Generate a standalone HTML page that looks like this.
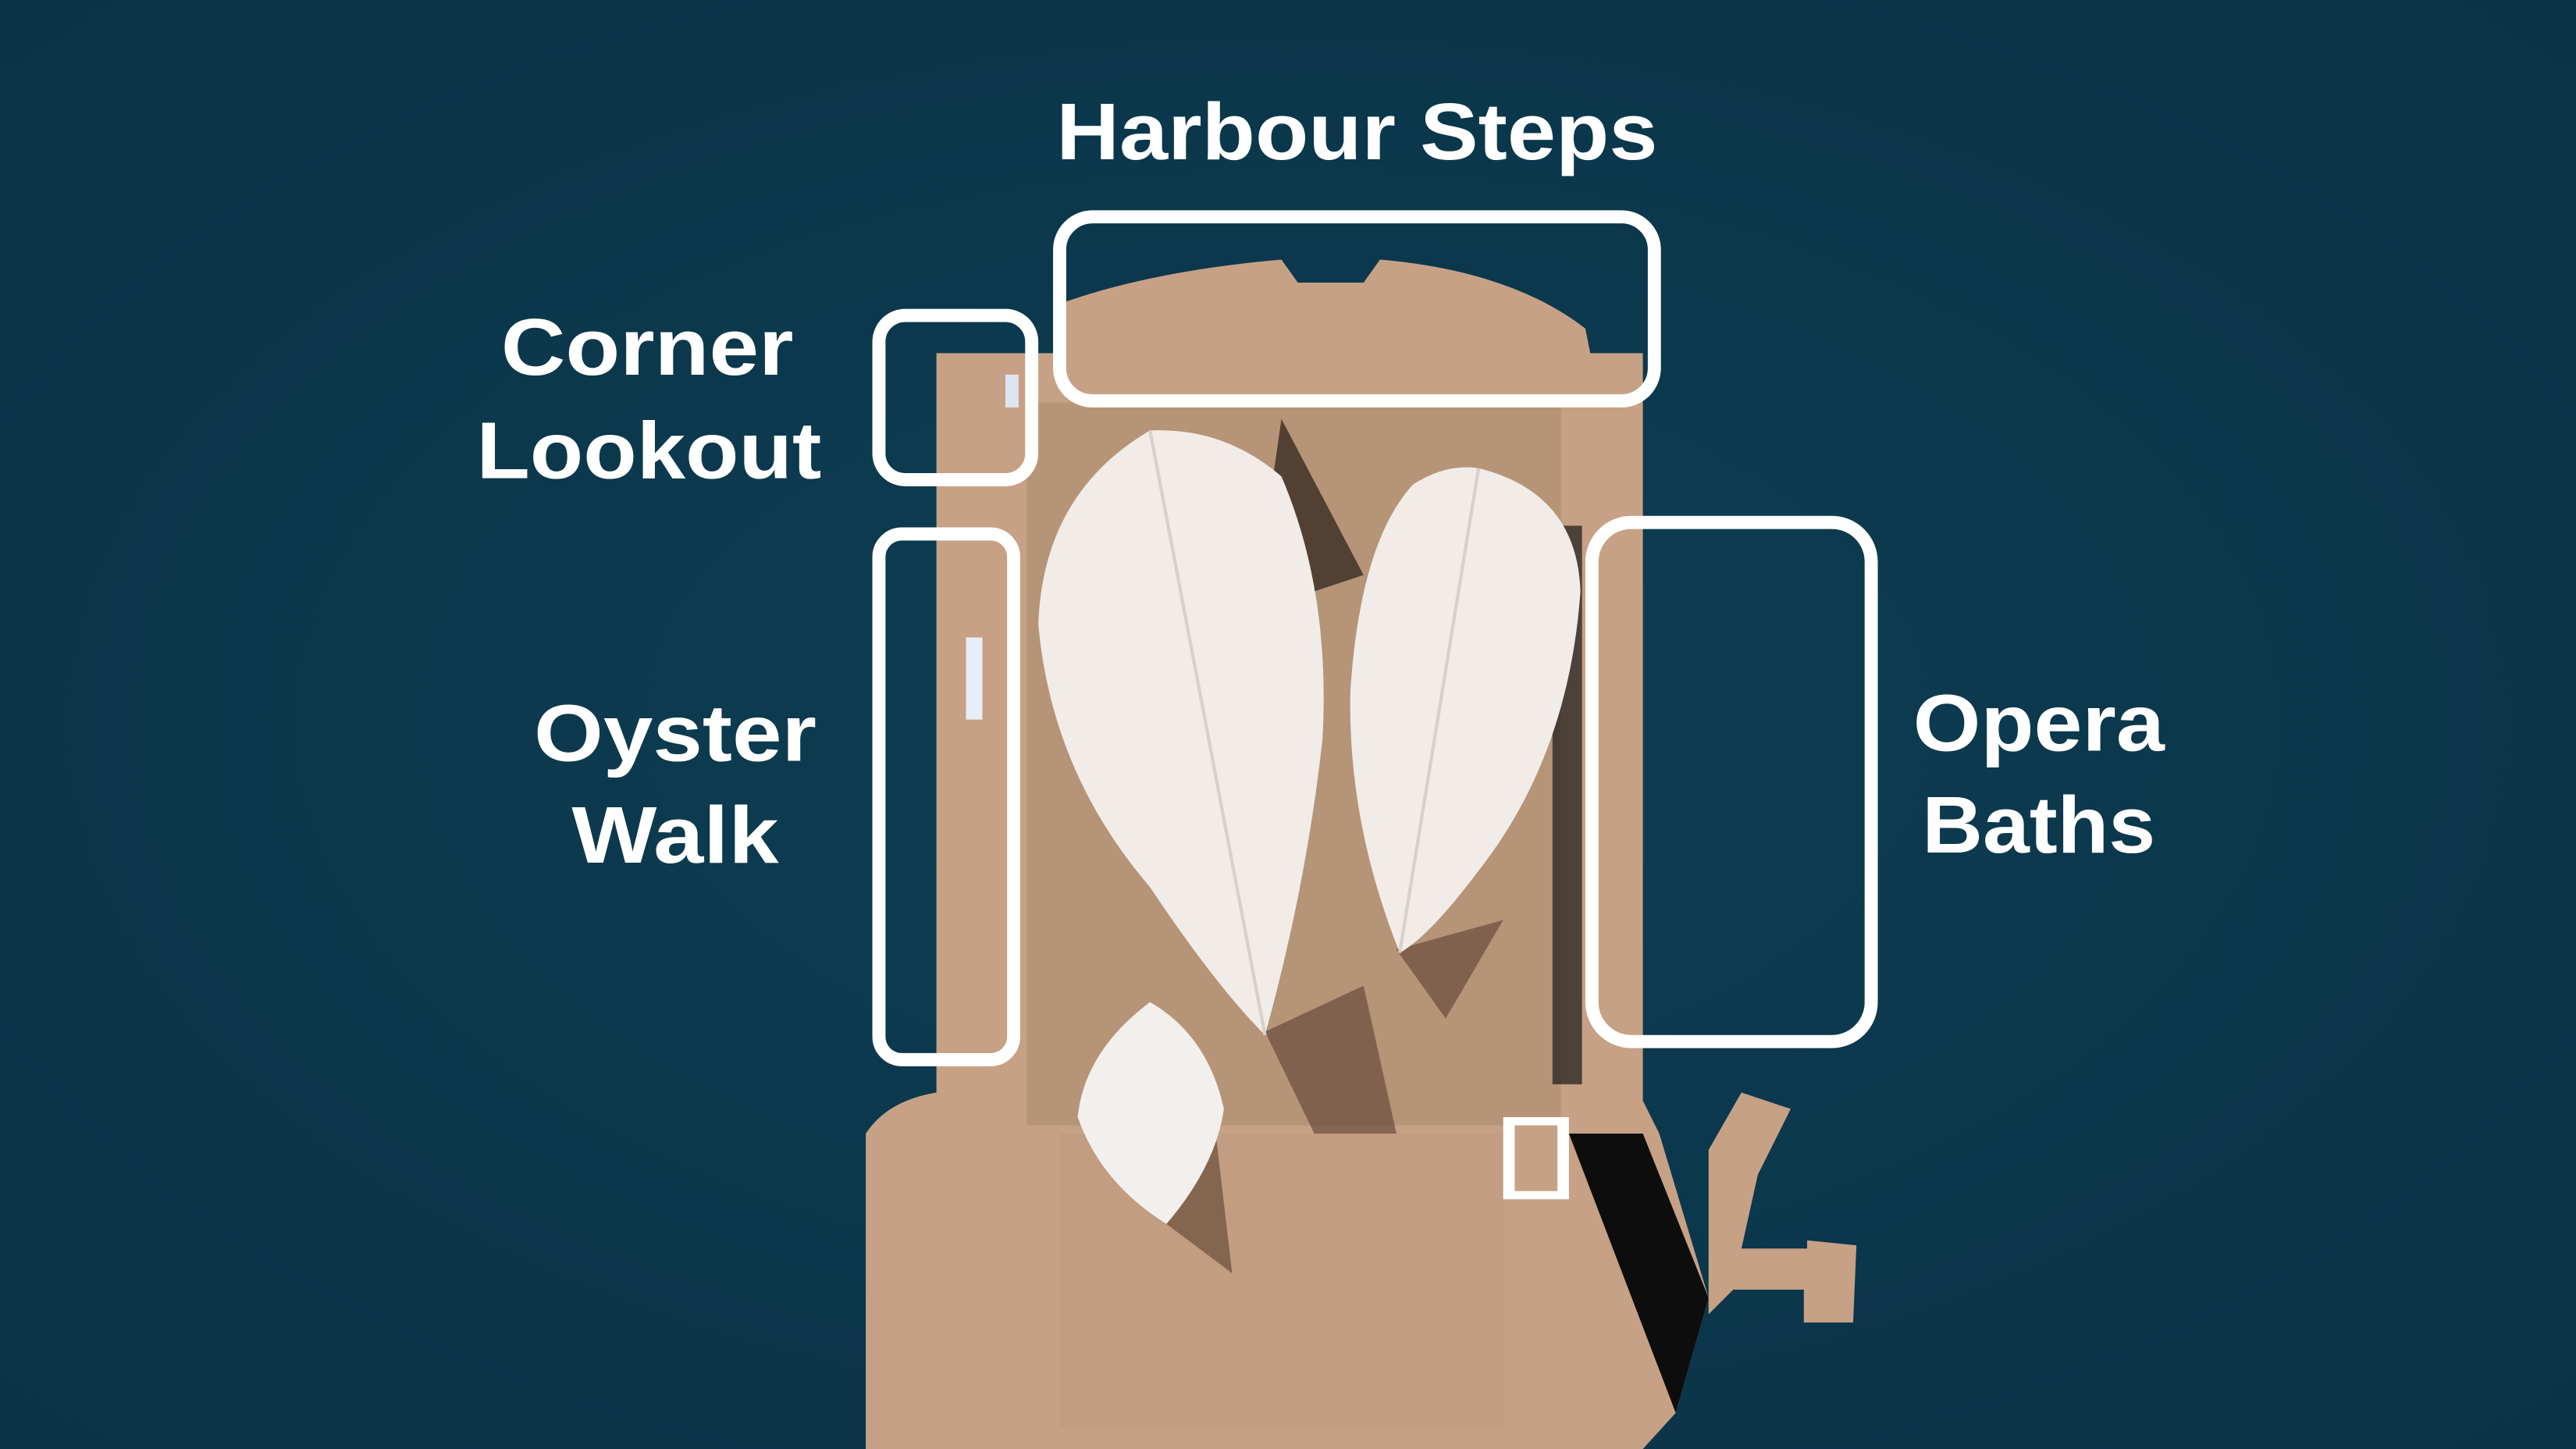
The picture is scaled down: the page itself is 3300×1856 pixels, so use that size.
<!DOCTYPE html>
<html><head><meta charset="utf-8"><style>
html,body{margin:0;padding:0;background:#0b394d;}
svg{display:block}
text{font-family:"Liberation Sans",sans-serif;font-weight:bold;fill:#fff;text-anchor:middle}
</style></head><body>
<svg width="3300" height="1856" viewBox="0 0 1568 882" preserveAspectRatio="none" xmlns="http://www.w3.org/2000/svg">
<defs>
<radialGradient id="w" cx="50%" cy="50%" r="70%">
<stop offset="0" stop-color="#0d3d52"/><stop offset="1" stop-color="#0a3347"/>
</radialGradient>
</defs>
<rect width="1568" height="882" fill="url(#w)"/>
<path d="M645,185 Q700,165 780,158 L790,172 L830,172 L840,158 Q920,165 965,200 L968,215 L1000,215 L1000,670 L1010,690 L1040,790 L1020,860 L1000,882 L527,882 L527,690 Q540,670 570,665 L570,215 L645,215 Z" fill="#c7a185"/>
<path d="M1040,700 L1060,665 L1090,675 L1070,715 L1060,760 L1100,760 L1100,755 L1130,758 L1128,805 L1098,805 L1098,785 L1055,785 L1040,800 Z" fill="#c7a185"/>
<rect x="625" y="245" width="325" height="440" fill="#b69478"/>
<rect x="645" y="690" width="270" height="180" fill="#c29d81"/>
<rect x="945" y="320" width="18" height="340" fill="#1a1a1a" opacity="0.7"/>
<path d="M955,690 L1000,690 L1040,790 L1020,860 Z" fill="#0d0d0d"/>
<rect x="915" y="680" width="40" height="50" fill="#fff"/>
<rect x="922" y="685" width="26" height="40" fill="#c7a185"/>
<path d="M770,628 L800,690 L850,690 L830,600 Z" fill="#5a4030" opacity="0.6"/>
<path d="M850,578 L880,620 L915,560 Z" fill="#5a4030" opacity="0.6"/>
<path d="M710,745 L750,775 L740,690 Z" fill="#5a4030" opacity="0.6"/>
<path d="M780,255 L830,350 L800,360 L775,290 Z" fill="#3a2a20" opacity="0.8"/>
<path d="M700,262 Q635,300 632,380 Q640,470 700,540 Q740,600 770,630 Q795,540 805,450 Q810,360 780,290 Q745,260 700,262 Z" fill="#f1ece8"/>
<path d="M700,262 L770,630" stroke="#d8d0ca" stroke-width="2" fill="none"/>
<path d="M900,285 Q960,300 962,360 Q955,460 900,530 Q870,570 852,580 Q820,500 822,420 Q828,330 860,295 Q880,282 900,285 Z" fill="#f1ece8"/>
<path d="M900,285 L852,580" stroke="#d8d0ca" stroke-width="2" fill="none"/>
<path d="M700,610 Q660,640 656,680 Q670,720 710,745 Q740,710 745,675 Q735,630 700,610 Z" fill="#f3efec"/>
<rect x="588" y="388" width="10" height="50" fill="#e8eef5"/>
<rect x="612" y="228" width="8" height="20" fill="#dde6f0"/>
<g fill="none" stroke="#fff" stroke-width="8">
<rect x="645" y="132" width="362" height="112" rx="20"/>
<rect x="535" y="192" width="93" height="100" rx="16"/>
<rect x="535" y="325" width="82" height="320" rx="14"/>
<rect x="969" y="318" width="170" height="316" rx="24"/>
</g>
<g font-size="49">
<text x="826" y="97" textLength="366" lengthAdjust="spacingAndGlyphs">Harbour Steps</text>
<text x="394" y="228" textLength="178" lengthAdjust="spacingAndGlyphs">Corner</text>
<text x="395" y="291" textLength="210" lengthAdjust="spacingAndGlyphs">Lookout</text>
<text x="411" y="463" textLength="172" lengthAdjust="spacingAndGlyphs">Oyster</text>
<text x="411" y="525" textLength="126" lengthAdjust="spacingAndGlyphs">Walk</text>
<text x="1241" y="457" textLength="153" lengthAdjust="spacingAndGlyphs">Opera</text>
<text x="1241" y="519" textLength="142" lengthAdjust="spacingAndGlyphs">Baths</text>
</g>
</svg>
</body></html>
